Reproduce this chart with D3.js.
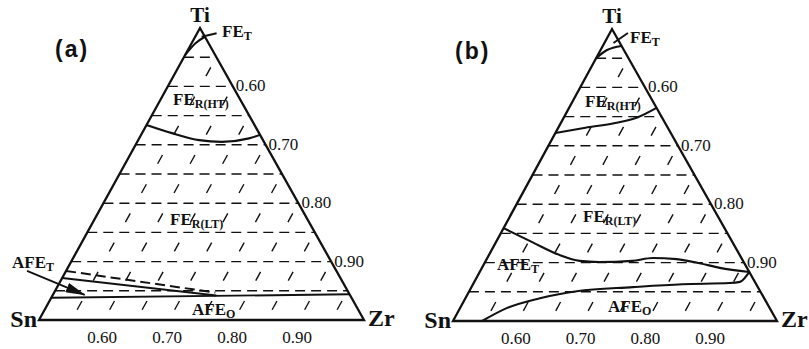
<!DOCTYPE html>
<html>
<head>
<meta charset="utf-8">
<script src="https://cdn.jsdelivr.net/npm/d3@7"></script>
<style>
  html, body { margin: 0; padding: 0; background: #fff; }
  svg { display: block; }
</style>
</head>
<body>
<svg id="chart" width="809" height="349"></svg>
<script>
// Zr-rich section of the Zr–Ti–Sn composition triangle (Zr >= 0.5).
// Every composition is written as [Zr, Ti]; Sn = 1 - Zr - Ti.

// grid levels (Zr fraction) and the labelled ticks
const gridLevels = [0.55, 0.60, 0.65, 0.70, 0.75, 0.80, 0.85, 0.90, 0.95];
const tickValues = [0.60, 0.70, 0.80, 0.90];
const tickLabels = ["0.60", "0.70", "0.80", "0.90"];

// panel (a) phase boundaries
const aFeT      = [[0.500, 0.454], [0.506, 0.474], [0.515, 0.485]];
const aHtLt     = [[0.500, 0.334], [0.546, 0.320], [0.594, 0.308], [0.630, 0.305], [0.669, 0.311], [0.683, 0.317]];
const aAfeTDash = [[0.500, 0.084], [0.748, 0.047]];
const aAfeTLine = [[0.500, 0.072], [0.752, 0.042]];
const aAfeO     = [[0.500, 0.038], [0.956, 0.044]];
const aArrow    = [[0.440, 0.084], [0.549, 0.043]];
const aLeader   = [[0.510, 0.485], [0.530, 0.491]];

// panel (b) phase boundaries
const bFeT      = [[0.500, 0.450], [0.510, 0.464], [0.529, 0.471]];
const bHtLt     = [[0.500, 0.322], [0.542, 0.331], [0.584, 0.339], [0.614, 0.349], [0.635, 0.365]];
const bLtAfeT   = [[0.500, 0.159], [0.556, 0.135], [0.609, 0.113], [0.645, 0.103], [0.676, 0.101],
                   [0.726, 0.103], [0.755, 0.108], [0.793, 0.106], [0.832, 0.099], [0.867, 0.091],
                   [0.916, 0.084]];
const bAfeTAfeO = [[0.545, 0.000], [0.572, 0.022], [0.615, 0.039], [0.666, 0.051], [0.749, 0.058],
                   [0.823, 0.063], [0.895, 0.065], [0.910, 0.067], [0.916, 0.084]];
const bLeader   = [[0.514, 0.476], [0.528, 0.493]];

const panels = [
  {
    name: "(a)", nameAt: [55, 57],
    S: [39, 320], Z: [364, 320], apex: [200, 28],
    solid: [aFeT, aHtLt, aAfeTLine, aAfeO, aLeader],
    dashed: [aAfeTDash],
    arrow: aArrow,
    labels: [
      { x: 222, y: 37,  main: "FE",  sub: "T" },
      { x: 173, y: 105, main: "FE",  sub: "R(HT)" },
      { x: 170, y: 225, main: "FE",  sub: "R(LT)" },
      { x: 12,  y: 268, main: "AFE", sub: "T" },
      { x: 192, y: 315, main: "AFE", sub: "O" }
    ]
  },
  {
    name: "(b)", nameAt: [455, 59],
    S: [453, 321], Z: [777, 321], apex: [612, 29],
    solid: [bFeT, bHtLt, bLtAfeT, bAfeTAfeO, bLeader],
    dashed: [],
    arrow: null,
    labels: [
      { x: 630, y: 43,  main: "FE",  sub: "T" },
      { x: 585, y: 107, main: "FE",  sub: "R(HT)" },
      { x: 583, y: 222, main: "FE",  sub: "R(LT)" },
      { x: 497, y: 270, main: "AFE", sub: "T" },
      { x: 608, y: 312, main: "AFE", sub: "O" }
    ]
  }
];

const svg = d3.select("#chart");
const ink = "#111";
const serif = "Liberation Serif";

const defs = svg.append("defs");
defs.append("marker")
  .attr("id", "head")
  .attr("markerUnits", "userSpaceOnUse")
  .attr("viewBox", "0 0 20 10")
  .attr("refX", 19).attr("refY", 5)
  .attr("markerWidth", 20).attr("markerHeight", 10)
  .attr("orient", "auto")
  .append("path")
  .attr("d", "M0,0 L20,5 L0,10 Z")
  .attr("fill", ink);

panels.forEach(p => {
  const g = svg.append("g");
  const apexU = (p.apex[0] - p.S[0]) / (p.Z[0] - p.S[0]);
  const x = d3.scaleLinear().domain([0, 1]).range([p.S[0], p.Z[0]]);
  const y = d3.scaleLinear().domain([0, 1]).range([p.S[1], p.apex[1]]);
  // barycentric weights of the three corners (Sn-side, Ti-side, Zr)
  const project = ([zr, ti]) => {
    const wT = 2 * ti, wZ = 2 * zr - 1;
    return [x(wZ + wT * apexU), y(wT)];
  };
  const straight = d3.line().x(d => project(d)[0]).y(d => project(d)[1]);
  const smooth = d3.line().x(d => project(d)[0]).y(d => project(d)[1])
    .curve(d3.curveMonotoneX);

  // horizontal dashed lines: constant Ti
  gridLevels.forEach(lv => {
    const ti = 1 - lv;
    g.append("path")
      .attr("d", straight([[0.5, ti], [lv, ti]]))
      .attr("fill", "none").attr("stroke", ink)
      .attr("stroke-width", 1.4)
      .attr("stroke-dasharray", "10,6");
  });

  // slanted dashed lines: constant Zr, one dash per band
  gridLevels.forEach(lv => {
    const a = project([lv, 0]), b = project([lv, 1 - lv]);
    const len = Math.hypot(b[0] - a[0], b[1] - a[1]);
    const bands = Math.round((1 - lv) / 0.05);
    const period = len / bands, dash = 10;
    g.append("path")
      .attr("d", straight([[lv, 0], [lv, 1 - lv]]))
      .attr("fill", "none").attr("stroke", ink)
      .attr("stroke-width", 1.4)
      .attr("stroke-dasharray", `${dash},${period - dash}`)
      .attr("stroke-dashoffset", dash + (period - dash) / 2);
  });

  // triangle outline
  g.append("path")
    .attr("d", straight([[0.5, 0], [1, 0], [0.5, 0.5], [0.5, 0]]) + "Z")
    .attr("fill", "none").attr("stroke", ink)
    .attr("stroke-width", 2.3).attr("stroke-linejoin", "miter");

  // phase boundaries
  p.dashed.forEach(c => {
    g.append("path").attr("d", straight(c))
      .attr("fill", "none").attr("stroke", ink)
      .attr("stroke-width", 2).attr("stroke-dasharray", "10,5");
  });
  p.solid.forEach(c => {
    g.append("path").attr("d", (c.length > 2 ? smooth : straight)(c))
      .attr("fill", "none").attr("stroke", ink)
      .attr("stroke-width", c.length > 2 ? 2.1 : 1.9);
  });
  if (p.arrow) {
    g.append("path").attr("d", straight(p.arrow))
      .attr("fill", "none").attr("stroke", ink)
      .attr("stroke-width", 1.8)
      .attr("marker-end", "url(#head)");
  }

  // tick labels on the right edge and under the base
  tickValues.forEach((v, i) => {
    const r = project([v, 1 - v]);
    g.append("text").attr("x", r[0] + 3).attr("y", r[1] + 5)
      .attr("font-family", serif).attr("font-size", 17).attr("fill", ink)
      .text(tickLabels[i]);
    const bt = project([v, 0]);
    g.append("text").attr("x", bt[0] - 2).attr("y", bt[1] + 23)
      .attr("text-anchor", "middle")
      .attr("font-family", serif).attr("font-size", 17).attr("fill", ink)
      .text(tickLabels[i]);
  });

  // corner names
  const top = project([0.5, 0.5]), sn = project([0.5, 0]), zr = project([1, 0]);
  g.append("text").attr("x", top[0]).attr("y", top[1] - 6)
    .attr("text-anchor", "middle").attr("font-family", serif)
    .attr("font-weight", "bold").attr("font-size", 21).attr("fill", ink).text("Ti");
  g.append("text").attr("x", sn[0] - 2).attr("y", sn[1] + 7)
    .attr("text-anchor", "end").attr("font-family", serif)
    .attr("font-weight", "bold").attr("font-size", 24).attr("fill", ink).text("Sn");
  g.append("text").attr("x", zr[0] + 4).attr("y", zr[1] + 6)
    .attr("font-family", serif)
    .attr("font-weight", "bold").attr("font-size", 24).attr("fill", ink).text("Zr");

  // phase labels
  p.labels.forEach(l => {
    const t = g.append("text").attr("x", l.x).attr("y", l.y)
      .attr("font-family", serif).attr("font-weight", "bold")
      .attr("font-size", 17).attr("fill", ink);
    t.append("tspan").text(l.main);
    t.append("tspan").attr("dy", 3).attr("font-size", 12).text(l.sub);
  });

  // panel letter
  g.append("text").attr("x", p.nameAt[0]).attr("y", p.nameAt[1])
    .attr("font-family", "Liberation Sans")
    .attr("font-weight", "bold").attr("font-size", 23)
    .attr("letter-spacing", 2).attr("fill", ink).text(p.name);
});
</script>
</body>
</html>
